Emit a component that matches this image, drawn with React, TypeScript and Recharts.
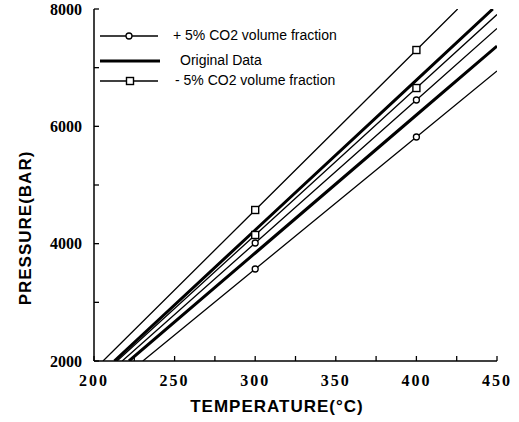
import { ComposedChart, Line, XAxis, YAxis, Label } from "recharts";

// axis ticks (minor + labelled)
const xTicks = [200, 225, 250, 275, 300, 325, 350, 375, 400, 425, 450];
const xLabels = [200, 250, 300, 350, 400, 450];
const yTicks = [2000, 3000, 4000, 5000, 6000, 7000, 8000];
const yLabels = [2000, 4000, 6000, 8000];

// temperatures where the markers were drawn
const markerTemps = [300, 400];

// -5% CO2 (square markers)
const minusUpperT = [205.6, 300, 400, 425.6];
const minusUpperP = [2000, 4574, 7301, 8000];
const minusLowerT = [214.3, 300, 400, 450];
const minusLowerP = [2000, 4148, 6653, 7905];

// original data (thick lines)
const origUpperT = [212.6, 300, 400, 447.4];
const origUpperP = [2000, 4233, 6789, 8000];
const origLowerT = [221.7, 300, 400, 450];
const origLowerP = [2000, 3841, 6193, 7369];

// +5% CO2 (circle markers)
const plusUpperT = [217.5, 300, 400, 450];
const plusUpperP = [2000, 4011, 6449, 7668];
const plusLowerT = [230.3, 300, 400, 450];
const plusLowerP = [2000, 3568, 5818, 6943];

const legendNames = ["+ 5% CO2 volume fraction", "Original Data", "- 5% CO2 volume fraction"];

const build = (ts: number[], ps: number[]) => ts.map((t, i) => ({ t, p: ps[i] }));

const SANS = "'Liberation Sans', Arial, sans-serif";
const SERIF = "'Liberation Serif', 'Times New Roman', serif";

const CircleDot = (props: any) => {
  const { cx, cy, payload, index } = props;
  if (!markerTemps.includes(payload.t)) return <g key={index} />;
  return <circle key={index} cx={cx} cy={cy} r={3} fill="#fff" stroke="#000" strokeWidth={1.3} />;
};

const SquareDot = (props: any) => {
  const { cx, cy, payload, index } = props;
  if (!markerTemps.includes(payload.t)) return <g key={index} />;
  return <rect key={index} x={cx - 3.5} y={cy - 3.5} width={7} height={7} fill="#fff" stroke="#000" strokeWidth={1.4} />;
};

const XTick = ({ x, y, payload }: any) => (
  <g>
    <line x1={x} x2={x} y1={y} y2={y - 5} stroke="#000" strokeWidth={1.3} />
    {xLabels.includes(payload.value) && (
      <text x={x} y={y + 25} textAnchor="middle" fontFamily={SERIF} fontWeight="bold" fontSize={16} letterSpacing={2} fill="#000">
        {payload.value}
      </text>
    )}
  </g>
);

const YTick = ({ x, y, payload }: any) => (
  <g>
    <line x1={x} x2={x + 5} y1={y} y2={y} stroke="#000" strokeWidth={1.3} />
    {yLabels.includes(payload.value) && (
      <text x={x - 12} y={y} dy="0.35em" textAnchor="end" fontFamily={SERIF} fontWeight="bold" fontSize={16} fill="#000">
        {payload.value}
      </text>
    )}
  </g>
);

const XTitle = () => (
  <text x={277} y={412} textAnchor="middle" fontFamily={SANS} fontWeight="bold" fontSize={17} letterSpacing={1} fill="#000">
    TEMPERATURE(°C)
  </text>
);

const YTitle = () => (
  <text x={31} y={228} transform="rotate(-90 31 228)" textAnchor="middle" fontFamily={SANS} fontWeight="bold" fontSize={17} letterSpacing={1} fill="#000">
    PRESSURE(BAR)
  </text>
);

const LegendBox = () => (
  <div style={{ position: "absolute", left: 100, top: 26, width: 280, height: 70, fontFamily: SANS, fontSize: 14, color: "#000" }}>
    <svg width={70} height={70} style={{ position: "absolute", left: 0, top: 0 }}>
      <line x1={0} x2={58} y1={10} y2={10} stroke="#000" strokeWidth={1.3} />
      <circle cx={29} cy={10} r={3} fill="#fff" stroke="#000" strokeWidth={1.3} />
      <line x1={0} x2={60} y1={35} y2={35} stroke="#000" strokeWidth={3} />
      <line x1={0} x2={58} y1={55} y2={55} stroke="#000" strokeWidth={1.3} />
      <rect x={26.5} y={51.5} width={7} height={7} fill="#fff" stroke="#000" strokeWidth={1.4} />
    </svg>
    <div style={{ position: "absolute", left: 73, top: 1, whiteSpace: "nowrap" }}>{legendNames[0]}</div>
    <div style={{ position: "absolute", left: 80, top: 26, whiteSpace: "nowrap" }}>{legendNames[1]}</div>
    <div style={{ position: "absolute", left: 75, top: 46, whiteSpace: "nowrap" }}>{legendNames[2]}</div>
  </div>
);

const frameLine = { stroke: "#000", strokeWidth: 1.5 };

export default function App() {
  return (
    <div style={{ position: "absolute", left: 0, top: 0, width: 519, height: 422, background: "#fff" }}>
      <ComposedChart width={519} height={422} margin={{ top: 9, right: 22, left: 34, bottom: 31 }}>
        <XAxis
          type="number"
          dataKey="t"
          domain={[200, 450]}
          ticks={xTicks}
          interval={0}
          allowDataOverflow
          axisLine={frameLine}
          tickLine={false}
          tickSize={0}
          tickMargin={0}
          tick={<XTick />}
          height={30}
        >
          <Label content={<XTitle />} />
        </XAxis>
        <XAxis xAxisId="top" orientation="top" type="number" domain={[200, 450]} height={0} tick={false} tickLine={false} axisLine={frameLine} />
        <YAxis
          type="number"
          dataKey="p"
          domain={[2000, 8000]}
          ticks={yTicks}
          interval={0}
          allowDataOverflow
          axisLine={frameLine}
          tickLine={false}
          tickSize={0}
          tickMargin={0}
          tick={<YTick />}
          width={60}
        >
          <Label content={<YTitle />} />
        </YAxis>
        <YAxis yAxisId="right" orientation="right" type="number" domain={[2000, 8000]} width={0} tick={false} tickLine={false} axisLine={frameLine} />
        <Line data={build(origUpperT, origUpperP)} dataKey="p" type="linear" stroke="#000" strokeWidth={3} dot={false} isAnimationActive={false} />
        <Line data={build(origLowerT, origLowerP)} dataKey="p" type="linear" stroke="#000" strokeWidth={3} dot={false} isAnimationActive={false} />
        <Line data={build(minusUpperT, minusUpperP)} dataKey="p" type="linear" stroke="#000" strokeWidth={1.3} dot={SquareDot} isAnimationActive={false} />
        <Line data={build(minusLowerT, minusLowerP)} dataKey="p" type="linear" stroke="#000" strokeWidth={1.3} dot={SquareDot} isAnimationActive={false} />
        <Line data={build(plusUpperT, plusUpperP)} dataKey="p" type="linear" stroke="#000" strokeWidth={1.3} dot={CircleDot} isAnimationActive={false} />
        <Line data={build(plusLowerT, plusLowerP)} dataKey="p" type="linear" stroke="#000" strokeWidth={1.3} dot={CircleDot} isAnimationActive={false} />
      </ComposedChart>
      <LegendBox />
    </div>
  );
}
